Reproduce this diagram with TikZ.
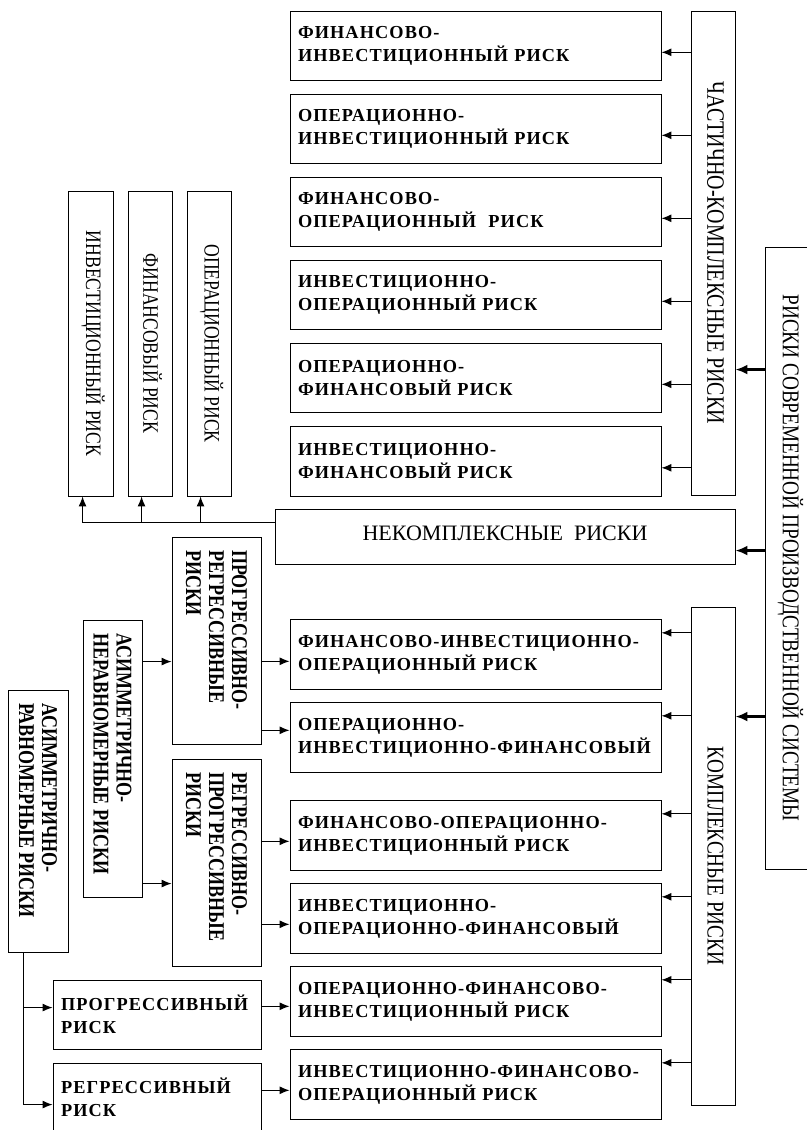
\documentclass[tikz,border=0pt]{standalone}
\usepackage{fontspec}
\setmainfont{Liberation Serif}
\newfontfamily\spacedfont[LetterSpace=6]{Liberation Serif}
\newfontfamily\narrowfont[FakeStretch=0.8]{Liberation Serif}
\usetikzlibrary{arrows.meta,calc}
\exhyphenpenalty=10000
\newcommand{\vtext}[2]{\rotatebox{-90}{\parbox{#1}{\raggedright #2}}}
\newcommand{\sidetext}[1]{\rotatebox{-90}{\raisebox{2.5pt}[\height][\depth]{#1}}}

\tikzset{
  frame/.style={draw, line width=0.9pt, inner sep=0pt},
  riskbox/.style={frame, minimum width=371pt, minimum height=69.5pt, text width=355pt, align=left,
    font=\spacedfont\bfseries\fontsize{18.3}{23}\selectfont},
  signbox/.style={frame, minimum width=208pt, minimum height=69pt, text width=192pt, align=left,
    font=\spacedfont\bfseries\fontsize{18.3}{23}\selectfont},
  groupbox/.style={frame, font=\narrowfont\fontsize{24}{26}\selectfont},
  typebox/.style={frame, font=\narrowfont\fontsize{22}{24}\selectfont},
  kindbox/.style={frame, font=\narrowfont\bfseries\fontsize{22.5}{23}\selectfont},
  arr/.style={-{Latex[length=10pt,width=8pt]}, line width=1.1pt},
  mainarr/.style={-{Latex[length=12pt,width=10pt]}, line width=2.6pt},
}

\begin{document}
\begin{tikzpicture}[x=1pt, y=-1pt]
  \useasboundingbox (0,0) rectangle (806,1130);

  %%%%% MAIN BLOCKS %%%%%
  \node[groupbox, minimum width=51pt, minimum height=622pt] (main) at (790.5,558)
    {\rotatebox{-90}{РИСКИ СОВРЕМЕННОЙ ПРОИЗВОДСТВЕННОЙ СИСТЕМЫ}};
  \node[groupbox, minimum width=44pt, minimum height=484pt, font=\narrowfont\fontsize{25}{26}\selectfont] (part) at (713,253)
    {\sidetext{ЧАСТИЧНО-КОМПЛЕКСНЫЕ РИСКИ}};
  \node[groupbox, minimum width=44pt, minimum height=498pt] (kompl) at (713,856)
    {\sidetext{КОМПЛЕКСНЫЕ РИСКИ}};
  \node[frame, minimum width=460pt, minimum height=55pt, font=\fontsize{22}{24}\selectfont] (nek) at (505,536.5)
    {\raisebox{3pt}[\height][\depth]{НЕКОМПЛЕКСНЫЕ\ \ РИСКИ}};

  \coordinate (m1) at ([yshift=-123pt]main.north west);
  \coordinate (m2) at ([yshift=-304pt]main.north west);
  \coordinate (m3) at ([yshift=-470pt]main.north west);
  \draw[mainarr] (m1) -- (m1 -| part.east);
  \draw[mainarr] (m2) -- (m2 -| nek.east);
  \draw[mainarr] (m3) -- (m3 -| kompl.east);

  %%%%% PARTIALLY COMPLEX %%%%%
  \node[riskbox] (u1) at (475.5,46) {ФИНАНСОВО-\\ИНВЕСТИЦИОННЫЙ РИСК};
  \node[riskbox] (u2) at (475.5,129) {ОПЕРАЦИОННО-\\ИНВЕСТИЦИОННЫЙ РИСК};
  \node[riskbox] (u3) at (475.5,212) {ФИНАНСОВО-\\ОПЕРАЦИОННЫЙ\ \ РИСК};
  \node[riskbox] (u4) at (475.5,295) {ИНВЕСТИЦИОННО-\\ОПЕРАЦИОННЫЙ РИСК};
  \node[riskbox] (u5) at (475.5,378) {ОПЕРАЦИОННО-\\ФИНАНСОВЫЙ РИСК};
  \node[riskbox] (u6) at (475.5,461.5) {ИНВЕСТИЦИОННО-\\ФИНАНСОВЫЙ РИСК};
  \foreach \n in {1,...,6} {
    \coordinate (p\n) at ([yshift=-41.5pt]u\n.north east);
    \draw[arr] (part.west |- p\n) -- (p\n);
  }

  %%%%% NON-COMPLEX %%%%%
  \node[typebox, minimum width=45pt, minimum height=305pt] (inv) at (90.5,343.5)
    {\sidetext{ИНВЕСТИЦИОННЫЙ РИСК}};
  \node[typebox, minimum width=44pt, minimum height=305pt] (fin) at (150,343.5)
    {\sidetext{ФИНАНСОВЫЙ РИСК}};
  \node[typebox, minimum width=44pt, minimum height=305pt] (oper) at (209,343.5)
    {\sidetext{ОПЕРАЦИОННЫЙ РИСК}};
  \coordinate (bus) at ([yshift=-14pt]nek.north west);
  \coordinate (ti) at ([xshift=15pt]inv.south west);
  \coordinate (tf) at ([xshift=14pt]fin.south west);
  \coordinate (to) at ([xshift=14pt]oper.south west);
  \draw[line width=1.1pt] (bus) -- (bus -| ti);
  \foreach \t in {ti,tf,to}
    \draw[arr] (bus -| \t) -- (\t);

  %%%%% COMPLEX %%%%%
  \node[riskbox] (c1) at (475.5,654.5) {ФИНАНСОВО-ИНВЕСТИЦИОННО-\\ОПЕРАЦИОННЫЙ РИСК};
  \node[riskbox] (c2) at (475.5,737.5) {ОПЕРАЦИОННО-\\ИНВЕСТИЦИОННО-ФИНАНСОВЫЙ};
  \node[riskbox] (c3) at (475.5,835.5) {ФИНАНСОВО-ОПЕРАЦИОННО-\\ИНВЕСТИЦИОННЫЙ РИСК};
  \node[riskbox] (c4) at (475.5,918.5) {ИНВЕСТИЦИОННО-\\ОПЕРАЦИОННО-ФИНАНСОВЫЙ};
  \node[riskbox] (c5) at (475.5,1001.5) {ОПЕРАЦИОННО-ФИНАНСОВО-\\ИНВЕСТИЦИОННЫЙ РИСК};
  \node[riskbox] (c6) at (475.5,1084.5) {ИНВЕСТИЦИОННО-ФИНАНСОВО-\\ОПЕРАЦИОННЫЙ РИСК};
  \foreach \n in {1,...,6} {
    \coordinate (q\n) at ([yshift=-13.5pt]c\n.north east);
    \draw[arr] (kompl.west |- q\n) -- (q\n);
  }

  \node[kindbox, minimum width=89pt, minimum height=207pt] (progreg) at (216.5,640.5)
    {\vtext{181pt}{ПРОГРЕССИВНО-\\РЕГРЕССИВНЫЕ\\РИСКИ}};
  \node[kindbox, minimum width=89pt, minimum height=207pt] (regprog) at (216.5,862.5)
    {\vtext{181pt}{РЕГРЕССИВНО-\\ПРОГРЕССИВНЫЕ\\РИСКИ}};
  \node[kindbox, minimum width=59pt, minimum height=277pt] (asner) at (112.5,758.5)
    {\vtext{250pt}{АСИММЕТРИЧНО-\\НЕРАВНОМЕРНЫЕ РИСКИ}};
  \node[kindbox, minimum width=60pt, minimum height=262pt] (asrav) at (38,821)
    {\vtext{236pt}{АСИММЕТРИЧНО-\\РАВНОМЕРНЫЕ РИСКИ}};
  \node[signbox] (prog) at (157,1014.5) {ПРОГРЕССИВНЫЙ\\РИСК};
  \node[signbox] (regr) at (157,1097.5) {РЕГРЕССИВНЫЙ\\РИСК};

  % uneven
  \coordinate (s1) at ([yshift=-125pt]progreg.north west);
  \coordinate (s2) at ([yshift=-125pt]regprog.north west);
  \draw[arr] (s1 -| asner.east) -- (s1);
  \draw[arr] (s2 -| asner.east) -- (s2);

  \coordinate (r1) at ([yshift=-42pt]c1.north west);
  \coordinate (r2) at ([yshift=-28pt]c2.north west);
  \coordinate (r3) at ([yshift=-41pt]c3.north west);
  \coordinate (r4) at ([yshift=-41pt]c4.north west);
  \coordinate (r5) at ([yshift=-40pt]c5.north west);
  \coordinate (r6) at ([yshift=-41pt]c6.north west);
  \draw[arr] (r1 -| progreg.east) -- (r1);
  \draw[arr] (r2 -| progreg.east) -- (r2);
  \draw[arr] (r3 -| regprog.east) -- (r3);
  \draw[arr] (r4 -| regprog.east) -- (r4);
  \draw[arr] (r5 -| prog.east) -- (r5);
  \draw[arr] (r6 -| regr.east) -- (r6);

  % even
  \coordinate (t0) at ([xshift=16pt]asrav.south west);
  \coordinate (t1) at ([yshift=-28pt]prog.north west);
  \coordinate (t2) at ([yshift=-42pt]regr.north west);
  \draw[arr] (t0) |- (t2);
  \draw[arr] (t0 |- t1) -- (t1);

\end{tikzpicture}
\end{document}
